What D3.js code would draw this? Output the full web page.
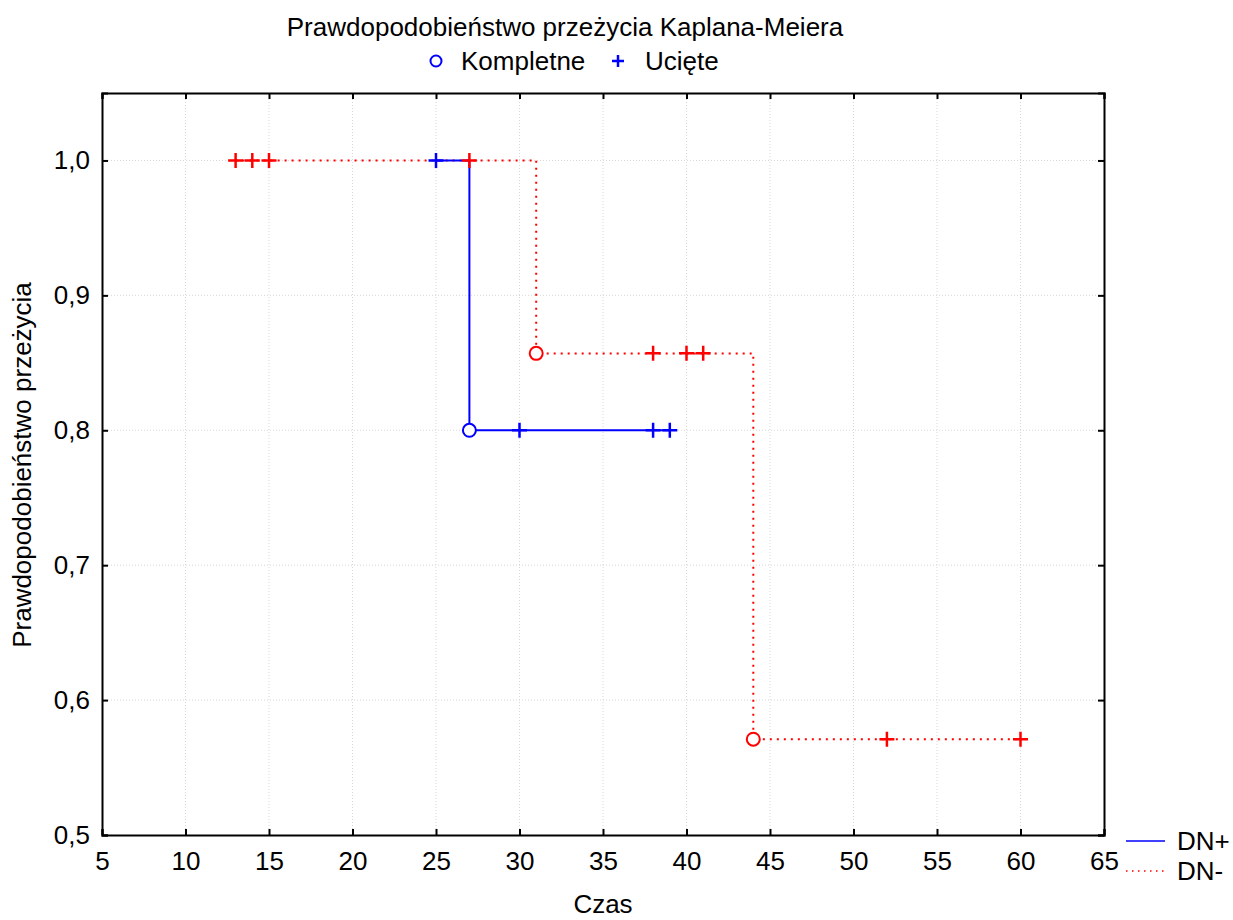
<!DOCTYPE html>
<html>
<head>
<meta charset="utf-8">
<script src="https://cdn.jsdelivr.net/npm/d3@7"></script>
<style>
body { margin: 0; background: #fff; }
text { font-family: Arial, "Liberation Sans", sans-serif; fill: #000; }
</style>
</head>
<body>
<div id="chart"></div>
<script>
// step curves: [time, survival]
var dnPlusSteps = [[25, 1.0], [27, 1.0], [27, 0.8], [39, 0.8]];
var dnMinusSteps = [[13, 1.0], [31, 1.0], [31, 0.857], [44, 0.857], [44, 0.571], [60, 0.571]];
// complete (event) points
var dnPlusEvents = [[27, 0.8]];
var dnMinusEvents = [[31, 0.857], [44, 0.571]];
// censored points
var dnPlusCens = [[25, 1.0], [30, 0.8], [38, 0.8], [39, 0.8]];
var dnMinusCens = [[13, 1.0], [14, 1.0], [15, 1.0], [27, 1.0], [38, 0.857], [40, 0.857], [41, 0.857], [52, 0.571], [60, 0.571]];
var xTicks = [5, 10, 15, 20, 25, 30, 35, 40, 45, 50, 55, 60, 65];
var yTicks = [0.5, 0.6, 0.7, 0.8, 0.9, 1.0];

var W = 1233, H = 920;
var mLeft = 102, mRight = 1104, mTop = 93, mBottom = 835;
var fs = "26px";

var svg = d3.select("#chart").append("svg")
  .attr("width", W).attr("height", H);

var x = d3.scaleLinear().domain([5, 65]).range([mLeft, mRight]);
var y = d3.scaleLinear().domain([0.5, 1.05]).range([mBottom, mTop]);
var fmt = function(d) { return d3.format(".1f")(d).replace(".", ","); };

// grid
svg.append("g").selectAll("line").data(xTicks.slice(1, -1)).enter().append("line")
  .attr("x1", function(d) { return x(d); }).attr("x2", function(d) { return x(d); })
  .attr("y1", mTop).attr("y2", mBottom)
  .attr("stroke", "#d8d8d8").attr("stroke-dasharray", "1,2");
svg.append("g").selectAll("line").data(yTicks.slice(1)).enter().append("line")
  .attr("x1", mLeft).attr("x2", mRight)
  .attr("y1", function(d) { return y(d); }).attr("y2", function(d) { return y(d); })
  .attr("stroke", "#d8d8d8").attr("stroke-dasharray", "1,2");

// axes with inward ticks
var xb = svg.append("g").attr("transform", "translate(0," + mBottom + ")")
  .call(d3.axisBottom(x).tickValues(xTicks).tickSize(-6).tickPadding(17));
var xt = svg.append("g").attr("transform", "translate(0," + mTop + ")")
  .call(d3.axisTop(x).tickValues(xTicks).tickSize(-6).tickFormat(""));
var yl = svg.append("g").attr("transform", "translate(" + mLeft + ",0)")
  .call(d3.axisLeft(y).tickValues(yTicks).tickSize(-6).tickPadding(12).tickFormat(fmt));
var yr = svg.append("g").attr("transform", "translate(" + mRight + ",0)")
  .call(d3.axisRight(y).tickValues(yTicks).tickSize(-6).tickFormat(""));
[xb, xt, yl, yr].forEach(function(g) {
  g.select(".domain").attr("stroke", "#000").attr("stroke-width", 2);
  g.selectAll(".tick line").attr("stroke", "#000").attr("stroke-width", 2);
  g.selectAll("text").style("font-size", fs).attr("font-family", "Arial, 'Liberation Sans', sans-serif");
});

var line = d3.line().x(function(d) { return x(d[0]); }).y(function(d) { return y(d[1]); });

svg.append("path").datum(dnMinusSteps).attr("d", line)
  .attr("fill", "none").attr("stroke", "#ff0000").attr("stroke-width", 2)
  .attr("stroke-dasharray", "2,5");
svg.append("path").datum(dnPlusSteps).attr("d", line)
  .attr("fill", "none").attr("stroke", "#0000ff").attr("stroke-width", 2);

function drawCircles(data, color) {
  svg.append("g").selectAll("circle").data(data).enter().append("circle")
    .attr("cx", function(d) { return x(d[0]); }).attr("cy", function(d) { return y(d[1]); })
    .attr("r", 6.5).attr("fill", "#fff").attr("stroke", color).attr("stroke-width", 2);
}
function drawPlus(data, color) {
  svg.append("g").selectAll("path").data(data).enter().append("path")
    .attr("d", function(d) {
      var cx = x(d[0]), cy = y(d[1]), s = 7.5;
      return "M" + (cx - s) + "," + cy + "H" + (cx + s) + "M" + cx + "," + (cy - s) + "V" + (cy + s);
    })
    .attr("stroke", color).attr("stroke-width", 2.5).attr("fill", "none");
}
drawCircles(dnMinusEvents, "#ff0000");
drawPlus(dnMinusCens, "#ff0000");
drawCircles(dnPlusEvents, "#0000ff");
drawPlus(dnPlusCens, "#0000ff");

// titles
svg.append("text").attr("x", 565).attr("y", 36).attr("text-anchor", "middle")
  .style("font-size", fs).text("Prawdopodobieństwo przeżycia Kaplana-Meiera");
svg.append("circle").attr("cx", 436).attr("cy", 61).attr("r", 5.5)
  .attr("fill", "#fff").attr("stroke", "#0000ff").attr("stroke-width", 2);
svg.append("text").attr("x", 461).attr("y", 70).style("font-size", fs).text("Kompletne");
svg.append("path").attr("d", "M612,61H624M618,55V67").attr("stroke", "#0000ff").attr("stroke-width", 2.5);
svg.append("text").attr("x", 645).attr("y", 70).style("font-size", fs).text("Ucięte");

svg.append("text").attr("x", 603).attr("y", 913).attr("text-anchor", "middle")
  .style("font-size", fs).text("Czas");
svg.append("text").attr("transform", "translate(31,465) rotate(-90)").attr("text-anchor", "middle")
  .style("font-size", fs).text("Prawdopodobieństwo przeżycia");

// right legend
svg.append("line").attr("x1", 1126).attr("x2", 1165).attr("y1", 841).attr("y2", 841)
  .attr("stroke", "#0000ff").attr("stroke-width", 1.5);
svg.append("text").attr("x", 1177).attr("y", 850).style("font-size", fs).text("DN+");
svg.append("line").attr("x1", 1126).attr("x2", 1165).attr("y1", 871).attr("y2", 871)
  .attr("stroke", "#ff0000").attr("stroke-width", 1.5).attr("stroke-dasharray", "1.5,4.5");
svg.append("text").attr("x", 1177).attr("y", 880).style("font-size", fs).text("DN-");
</script>
</body>
</html>
